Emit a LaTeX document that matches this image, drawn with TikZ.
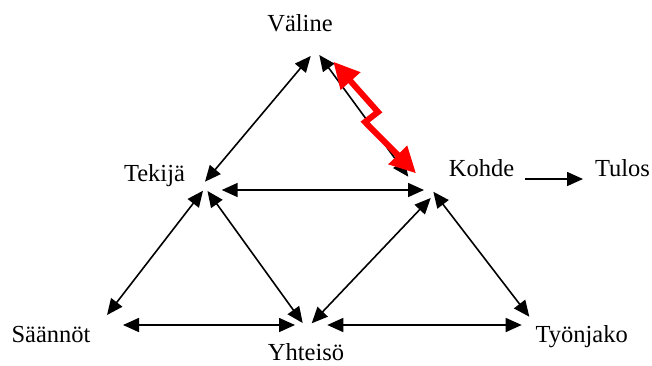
\documentclass[tikz,border=0pt]{standalone}
\usepackage{fontspec}
\setmainfont{Liberation Serif}
\usetikzlibrary{arrows.meta}
\begin{document}
\begin{tikzpicture}[x=1pt,y=-1pt,
  lbl/.style={anchor=base,inner sep=0pt,font=\fontsize{24.5}{29}\selectfont},
  link/.style={{Triangle[length=16pt,width=14pt]}-{Triangle[length=16pt,width=14pt]},line width=1.6pt},
  lead/.style={-{Triangle[length=16pt,width=14pt]},line width=1.6pt},
  bolt/.style={red,line width=6pt,line join=miter,{Triangle[length=26pt,width=25pt]}-{Triangle[length=26pt,width=25pt]}}]
\useasboundingbox (0,0) rectangle (652,365);
% labels
\node[lbl] (valine) at (300,31.7) {Väline};
\node[lbl] (tekija) at (154.5,181.7) {Tekijä};
\node[lbl] (kohde) at (481.5,176.7) {Kohde};
\node[lbl] (tulos) at (622.5,176.7) {Tulos};
\node[lbl] (saannot) at (51,342.3) {Säännöt};
\node[lbl] (yhteiso) at (306,360.5) {Yhteisö};
\node[lbl] (tyonjako) at (581.7,342.3) {Työnjako};
% arrow ends
\coordinate (va) at (310.7,56);
\coordinate (vb) at (319.3,55);
\coordinate (vr) at (333.3,61.7);
\coordinate (ta) at (205,181.7);
\coordinate (tb) at (221.7,190);
\coordinate (tc) at (203,190.7);
\coordinate (td) at (207.5,191);
\coordinate (ka) at (408.3,176.7);
\coordinate (kb) at (424,190);
\coordinate (kc) at (430.7,198);
\coordinate (kd) at (433.3,191.7);
\coordinate (ke) at (525,179);
\coordinate (kr) at (416,173.3);
\coordinate (tu) at (583,179);
\coordinate (sa) at (107,315);
\coordinate (sb) at (123,325);
\coordinate (ya) at (302.7,323);
\coordinate (yb) at (311.7,323.3);
\coordinate (yc) at (295,325);
\coordinate (yd) at (327.3,325);
\coordinate (ja) at (529.3,316.7);
\coordinate (jb) at (521.7,325);
\coordinate (b1) at (378,112);
\coordinate (b2) at (365,122);
% connectors
\draw[link] (va) -- (ta);
\draw[link] (vb) -- (ka);
\draw[link] (tb) -- (kb);
\draw[link] (tc) -- (sa);
\draw[link] (td) -- (ya);
\draw[link] (kc) -- (yb);
\draw[link] (kd) -- (ja);
\draw[link] (sb) -- (yc);
\draw[link] (yd) -- (jb);
\draw[lead] (ke) -- (tu);
\draw[bolt] (vr) -- (b1) -- (b2) -- (kr);
\end{tikzpicture}
\end{document}
